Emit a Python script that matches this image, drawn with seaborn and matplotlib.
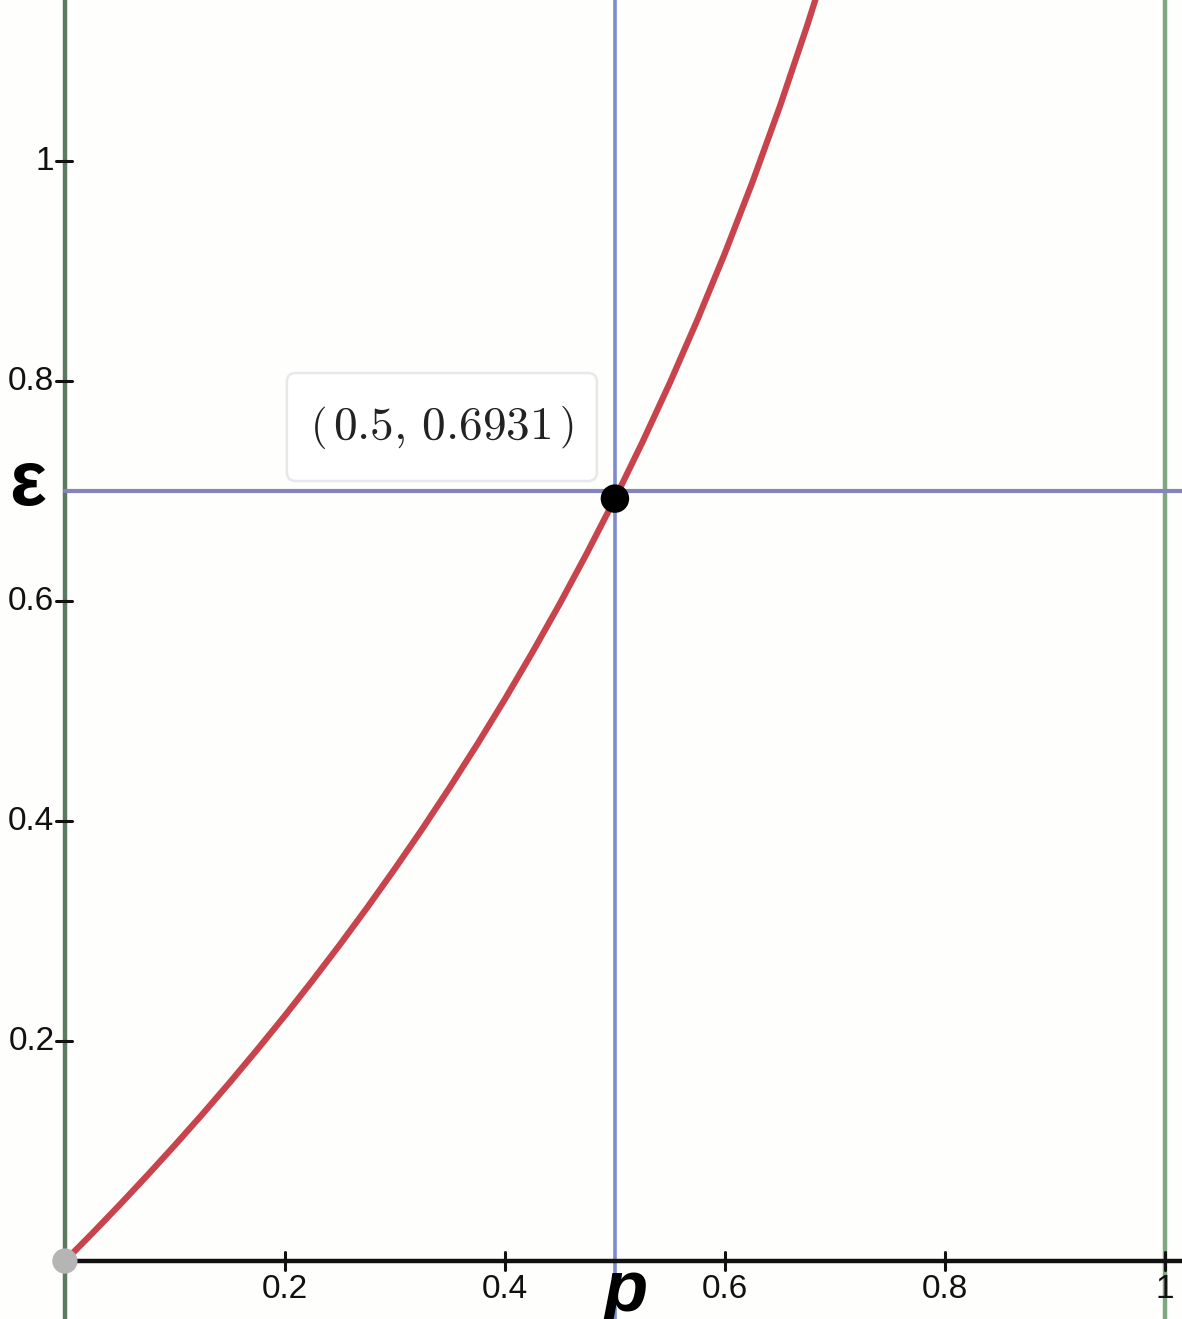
import numpy as np
import pandas as pd
import matplotlib
matplotlib.use("Agg")
import matplotlib.pyplot as plt
import seaborn as sns
from matplotlib.patches import FancyBboxPatch

# ---- data ----
p_vals = [0.0, 0.025, 0.05, 0.075, 0.1, 0.125, 0.15, 0.175, 0.2, 0.225, 0.25,
          0.275, 0.3, 0.325, 0.35, 0.375, 0.4, 0.425, 0.45, 0.475, 0.5, 0.525,
          0.55, 0.575, 0.6, 0.625, 0.65, 0.675, 0.69]
eps_vals = [0.0, 0.0253, 0.0513, 0.0780, 0.1054, 0.1335, 0.1625, 0.1924, 0.2231,
            0.2549, 0.2877, 0.3216, 0.3567, 0.3930, 0.4308, 0.4700, 0.5108, 0.5534,
            0.5978, 0.6444, 0.6931, 0.7444, 0.7985, 0.8557, 0.9163, 0.9808, 1.0498,
            1.1239, 1.1712]
point_p = 0.5
point_eps = 0.6931
guide_eps = 0.70
point_label = r"$\left(\,0.5,\, 0.6931\,\right)$"
x_ticks = [0.2, 0.4, 0.6, 0.8, 1.0]
x_tick_labels = ["0.2", "0.4", "0.6", "0.8", "1"]
y_ticks = [0.2, 0.4, 0.6, 0.8, 1.0]
y_tick_labels = ["0.2", "0.4", "0.6", "0.8", "1"]

df = pd.DataFrame({"p": p_vals, "eps": eps_vals})

sns.set_theme(style="white")
plt.rcParams["font.family"] = ["Liberation Sans", "DejaVu Sans"]
plt.rcParams["mathtext.fontset"] = "cm"

fig = plt.figure(figsize=(11.82, 13.19), dpi=100)
bg = "#fefefc"
fig.patch.set_facecolor(bg)
ax = fig.add_axes([0, 0, 1, 1])
ax.set_facecolor(bg)
ax.set_xlim(-0.059, 1.0155)
ax.set_ylim(-0.0527, 1.1464)
for s in ax.spines.values():
    s.set_visible(False)
ax.set_xticks([])
ax.set_yticks([])

xmin_frac = (0 + 0.059) / 1.0745

# axes / guide lines
ax.axvline(0, color="#5b7a5f", lw=3.2, zorder=2)
ax.axvline(1.0, color="#7fa880", lw=3.2, zorder=2)
ax.axhline(0, xmin=xmin_frac, color="#111111", lw=3.2, zorder=3)
ax.axvline(point_p, color="#7d8bcb", lw=2.6, zorder=2)
ax.axhline(guide_eps, xmin=xmin_frac, color="#8585be", lw=3.0, zorder=2)

# ticks
for t, lab in zip(x_ticks, x_tick_labels):
    ax.plot([t, t], [-0.008, 0.008], color="#111111", lw=2.2, zorder=3)
    ax.text(t, -0.026, lab, ha="center", va="center", fontsize=24, color="#111111")
for t, lab in zip(y_ticks, y_tick_labels):
    ax.plot([-0.008, 0.006], [t, t], color="#111111", lw=2.2, zorder=3)
    ax.text(-0.0095, t, lab, ha="right", va="center", fontsize=24, color="#111111")

# curve
sns.lineplot(data=df, x="p", y="eps", ax=ax, color="#c9434d", lw=4.5,
             zorder=4, legend=False)

# points
ax.scatter([0], [0], s=330, color="#b5b5b5", zorder=6, edgecolor="none")
ax.scatter([point_p], [point_eps], s=420, color="black", zorder=7, edgecolor="none")

# label box
box = FancyBboxPatch((0.2018, 0.7091), 0.2818, 0.0982,
                     boxstyle="round,pad=0,rounding_size=0.008",
                     facecolor="white", edgecolor="#e8e8e8", lw=1.8, zorder=5)
ax.add_patch(box)
ax.text(0.3427, 0.758, point_label, ha="center", va="center",
        fontsize=34, color="#222222", zorder=6)

# axis labels
ax.text(-0.0335, 0.706, "ε", ha="center", va="center", fontsize=56,
        fontweight="bold", color="black")
ax.text(0.51, -0.028, "p", ha="center", va="center", fontsize=52,
        fontweight="bold", style="italic", color="black")

fig.savefig("out.png", dpi=100, facecolor=bg)
